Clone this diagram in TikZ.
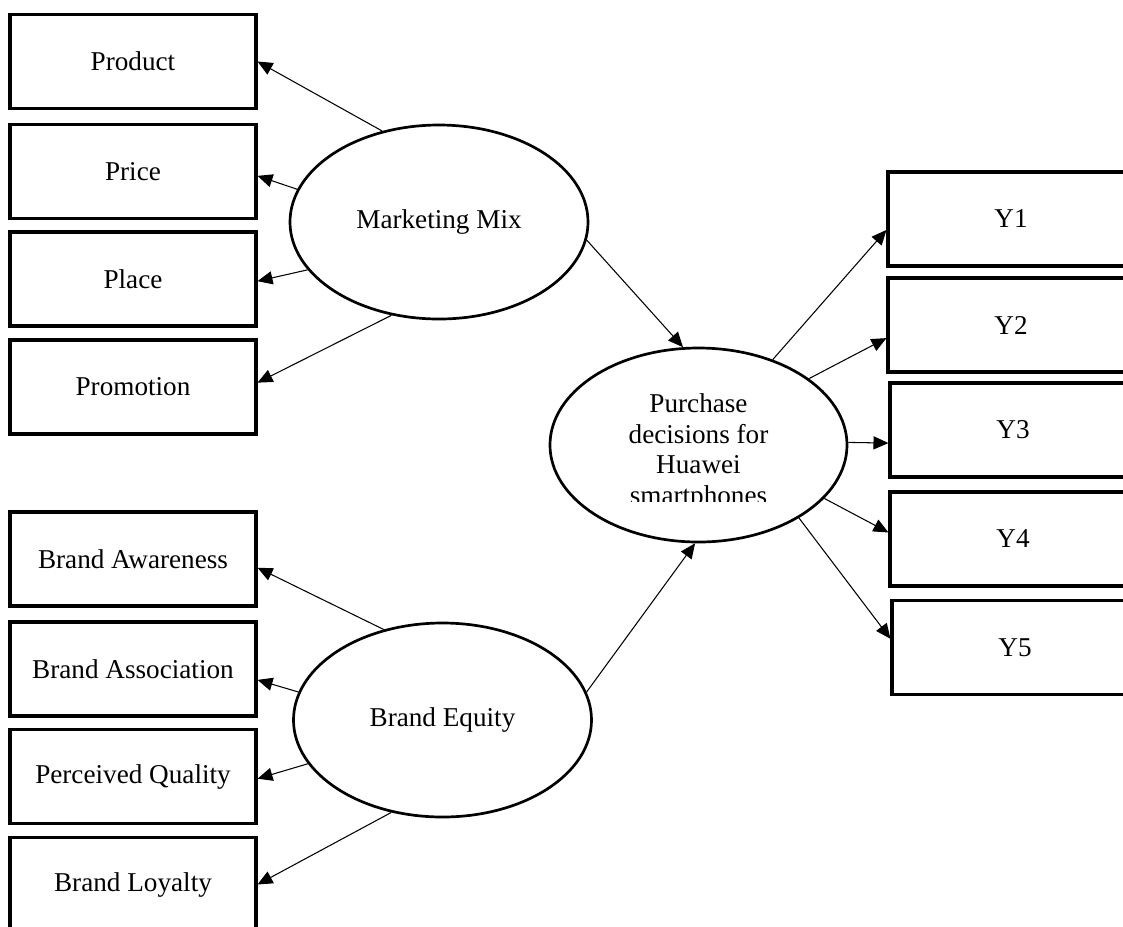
\documentclass[tikz,border=0pt]{standalone}
\usepackage{fontspec}
\setmainfont{Liberation Serif}
\usetikzlibrary{positioning, shapes.geometric, arrows.meta}

\begin{document}
\begin{tikzpicture}[ % coordinates are given in pixels of the page
x=0.015cm, y=-0.015cm,
font=\fontsize{11.6}{13.1}\selectfont,
long_square/.style={rectangle, draw=black, fill=white, line width=1.3pt, inner sep=0pt, minimum width=3.69cm, minimum height=1.41cm},
empty_ellipse/.style={ellipse, draw=black, fill=white, line width=1.15pt, inner sep=0pt, minimum width=4.47cm, minimum height=2.91cm, align=center},
out_arrow/.style={-{Triangle[length=6.4pt, width=5.6pt]}, line width=0.45pt}
]

\path[use as bounding box, clip] (0,0) rectangle (1123,926);

% \node[type](name_of_node) at (x,y) {node_text}

\node[long_square](product) at (133,61.5) {Product};
\node[long_square](price) at (133,171.5) {Price};
\node[long_square](place) at (133,279) {Place};
\node[long_square](promotion) at (133,387) {Promotion};

\node[long_square](awareness) at (133,559) {Brand Awareness};
\node[long_square](association) at (133,669) {Brand Association};
\node[long_square](quality) at (133,776.5) {Perceived Quality};
\node[long_square](loyalty) at (133,884.5) {Brand Loyalty};

\node[empty_ellipse](marketing_mix) at (439,222) {Marketing Mix};
\node[empty_ellipse](brand_equity) at (442.5,720) {Brand Equity};

% the text box of the third ellipse cuts off its last line
\node[empty_ellipse, minimum width=4.455cm](purchase) at (698.5,445) {};
\begin{scope}
\clip (550,340) rectangle (847,501);
\node[align=center](purchase_text) at (698.5,452) {Purchase\\decisions for\\Huawei\\smartphones};
\end{scope}

\node[long_square](y1) at (1011,219) {Y1};
\node[long_square](y2) at (1011,325) {Y2};
\node[long_square](y3) at (1013,430) {Y3};
\node[long_square](y4) at (1013,539) {Y4};
\node[long_square](y5) at (1015,647.5) {Y5};

% \draw[out_arrow](name_of_node.angle) -- (name_of_node.angle)

\draw[out_arrow](marketing_mix.122) -- (product.east);
\draw[out_arrow](marketing_mix.167) -- (price.358);
\draw[out_arrow](marketing_mix.200) -- (place.359);
\draw[out_arrow](marketing_mix.243) -- (promotion.2);

\draw[out_arrow](brand_equity.123) -- (awareness.356);
\draw[out_arrow](brand_equity.169) -- (association.355);
\draw[out_arrow](brand_equity.198) -- (quality.359);
\draw[out_arrow](brand_equity.241.5) -- (loyalty.east);

\draw[out_arrow](marketing_mix.353) -- (purchase.99);
\draw[out_arrow](brand_equity.11) -- (purchase.268);

\draw[out_arrow](purchase.49.5) -- (y1.185);
\draw[out_arrow](purchase.31) -- (y2.186);
\draw[out_arrow](purchase.1) -- (y3.186);
\draw[out_arrow](purchase.337) -- (y4.177);
\draw[out_arrow](purchase.324) -- (y5.176);

\end{tikzpicture}
\end{document}
